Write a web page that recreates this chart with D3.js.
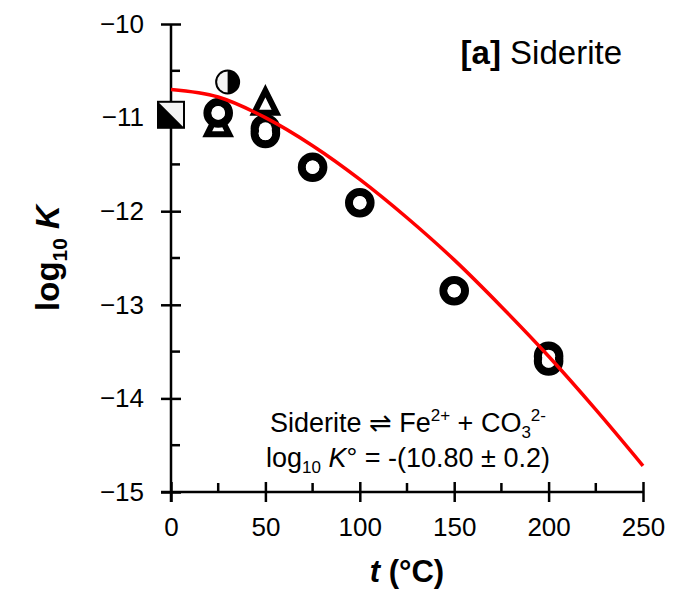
<!DOCTYPE html>
<html>
<head>
<meta charset="utf-8">
<script src="https://cdn.jsdelivr.net/npm/d3@7"></script>
<style>
  body { margin: 0; background: #fff; }
  text { font-family: "Liberation Sans", Arial, sans-serif; fill: #000; }
</style>
</head>
<body>
<div id="chart"></div>
<script>
// fitted curve
const fitT = [0, 25, 50, 75, 100, 125, 150, 175, 200, 225, 250];
const fitLogK = [-10.70, -10.78, -11.00, -11.30, -11.66, -12.07, -12.52, -13.02, -13.55, -14.12, -14.72];

// measured points
const circleT = [25, 50, 50, 75, 100, 150, 200, 200];
const circleLogK = [-10.95, -11.12, -11.17, -11.53, -11.91, -12.85, -13.55, -13.60];
const triT = [25, 50];
const triLogK = [-11.10, -10.87];
const squareT = [0];
const squareLogK = [-10.97];
const halfT = [30];
const halfLogK = [-10.62];

const xTicks = [0, 50, 100, 150, 200, 250];
const xMinor = [25, 75, 125, 175, 225];
const yTicks = [-15, -14, -13, -12, -11, -10];
const yMinor = [-14.5, -13.5, -12.5, -11.5, -10.5];

const margin = {top: 24, right: 33, bottom: 107, left: 171};
const W = 676, H = 599;
const width = W - margin.left - margin.right,
      height = H - margin.top - margin.bottom;

const x = d3.scaleLinear().domain([0, 250]).range([0, width]);
const y = d3.scaleLinear().domain([-15, -10]).range([height, 0]);

const svg = d3.select("#chart").append("svg")
    .attr("width", W)
    .attr("height", H)
  .append("g")
    .attr("transform", "translate(" + margin.left + "," + margin.top + ")");

// axes
const xAxis = svg.append("g")
    .attr("transform", "translate(0," + height + ")")
    .call(d3.axisBottom(x).tickValues(xTicks).tickFormat(d3.format("d")).tickSize(0).tickPadding(26));
xAxis.select(".domain").attr("stroke-width", 2.5).attr("d", "M-10,0H" + width);
xAxis.selectAll("text").attr("font-size", 26).attr("font-family", "Liberation Sans, Arial, sans-serif");
xAxis.selectAll(".tick").append("line")
    .attr("y1", -10).attr("y2", 10).attr("stroke", "#000").attr("stroke-width", 2.5);
svg.selectAll(".xminor").data(xMinor).enter().append("line")
    .attr("x1", d => x(d)).attr("x2", d => x(d))
    .attr("y1", height).attr("y2", height - 9)
    .attr("stroke", "#000").attr("stroke-width", 2.5);

const yAxis = svg.append("g")
    .call(d3.axisLeft(y).tickValues(yTicks).tickFormat(d3.format("d")).tickSize(0).tickPadding(27));
yAxis.select(".domain").attr("stroke-width", 2.5).attr("d", "M0," + (height + 10) + "V0");
yAxis.selectAll("text").attr("font-size", 26).attr("font-family", "Liberation Sans, Arial, sans-serif");
yAxis.selectAll(".tick").append("line")
    .attr("x1", -10).attr("x2", 10).attr("stroke", "#000").attr("stroke-width", 2.5);
svg.selectAll(".yminor").data(yMinor).enter().append("line")
    .attr("x1", 0).attr("x2", 9)
    .attr("y1", d => y(d)).attr("y2", d => y(d))
    .attr("stroke", "#000").attr("stroke-width", 2.5);

// triangles (open, thick outline)
const triPath = (w, h) => "M0," + (-2 * h / 3) + "L" + w + "," + (h / 3) + "L" + (-w) + "," + (h / 3) + "Z";
svg.selectAll(".tri").data(triT).enter().append("path")
    .attr("class", "tri")
    .attr("transform", (d, i) => "translate(" + x(d) + "," + y(triLogK[i]) + ")")
    .attr("d", triPath(11, 22))
    .attr("fill", "#fff").attr("stroke", "#000").attr("stroke-width", 6)
    .attr("stroke-linejoin", "miter");

// circles (open, thick ring)
svg.selectAll(".circ").data(circleT).enter().append("circle")
    .attr("class", "circ")
    .attr("cx", d => x(d))
    .attr("cy", (d, i) => y(circleLogK[i]))
    .attr("r", 10.8)
    .attr("fill", "#fff").attr("stroke", "#000").attr("stroke-width", 8);
// fill the holes of overlapping rings
svg.selectAll(".circhole").data(circleT).enter().append("circle")
    .attr("cx", d => x(d))
    .attr("cy", (d, i) => y(circleLogK[i]))
    .attr("r", 6.6)
    .attr("fill", "#fff");

// half-filled square
const sq = svg.selectAll(".sq").data(squareT).enter().append("g")
    .attr("transform", (d, i) => "translate(" + x(d) + "," + y(squareLogK[i]) + ")");
sq.append("rect").attr("x", -13).attr("y", -13).attr("width", 26).attr("height", 26)
    .attr("fill", "#f4f4f4").attr("stroke", "#000").attr("stroke-width", 2);
sq.append("path").attr("d", "M-13,-13L13,13H-13Z").attr("fill", "#000");

// half-filled circle
const hc = svg.selectAll(".hc").data(halfT).enter().append("g")
    .attr("transform", (d, i) => "translate(" + x(d) + "," + y(halfLogK[i]) + ")");
hc.append("circle").attr("r", 11.5).attr("fill", "#f4f4f4").attr("stroke", "#000").attr("stroke-width", 2);
hc.append("path").attr("d", "M0,-11.5A11.5,11.5 0 0 1 0,11.5Z").attr("fill", "#000");

// fitted line
const line = d3.line()
    .x((d, i) => x(fitT[i]))
    .y((d, i) => y(fitLogK[i]))
    .curve(d3.curveMonotoneX);
svg.append("path")
    .datum(fitT)
    .attr("d", line)
    .attr("fill", "none")
    .attr("stroke", "#ff0000")
    .attr("stroke-width", 3.5);

// title
const title = svg.append("text")
    .attr("x", 451).attr("y", 40)
    .attr("text-anchor", "end")
    .attr("font-size", 33);
title.append("tspan").attr("font-weight", "bold").text("[a]");
title.append("tspan").text(" Siderite");

// reaction annotation
const note1 = svg.append("text")
    .attr("x", 237).attr("y", 408)
    .attr("text-anchor", "middle")
    .attr("font-size", 27);
note1.append("tspan").text("Siderite ");
note1.append("tspan").attr("font-family", "DejaVu Sans").text("\u21CC");
note1.append("tspan").text(" Fe");
note1.append("tspan").attr("font-size", 17).attr("dy", -11).text("2+");
note1.append("tspan").attr("dy", 11).text(" + CO");
note1.append("tspan").attr("font-size", 17).attr("dy", 6).text("3");
note1.append("tspan").attr("font-size", 17).attr("dy", -17).text("2-");

const note2 = svg.append("text")
    .attr("x", 237).attr("y", 443)
    .attr("text-anchor", "middle")
    .attr("font-size", 27);
note2.append("tspan").text("log");
note2.append("tspan").attr("font-size", 17).attr("dy", 6).text("10");
note2.append("tspan").attr("dy", -6).text(" ");
note2.append("tspan").attr("font-style", "italic").text("K");
note2.append("tspan").text("\u00B0 = -(10.80 \u00B1 0.2)");

// axis titles
const xt = svg.append("text")
    .attr("x", width / 2).attr("y", height + 90)
    .attr("text-anchor", "middle")
    .attr("font-size", 31).attr("font-weight", "bold");
xt.append("tspan").attr("font-style", "italic").text("t");
xt.append("tspan").text(" (\u00B0C)");

const yt = svg.append("text")
    .attr("transform", "translate(" + (-112) + "," + (height / 2) + ") rotate(-90)")
    .attr("text-anchor", "middle")
    .attr("font-size", 33).attr("font-weight", "bold");
yt.append("tspan").text("log");
yt.append("tspan").attr("font-size", 21).attr("dy", 8).text("10");
yt.append("tspan").attr("dy", -8).text(" ");
yt.append("tspan").attr("font-style", "italic").text("K");
</script>
</body>
</html>
